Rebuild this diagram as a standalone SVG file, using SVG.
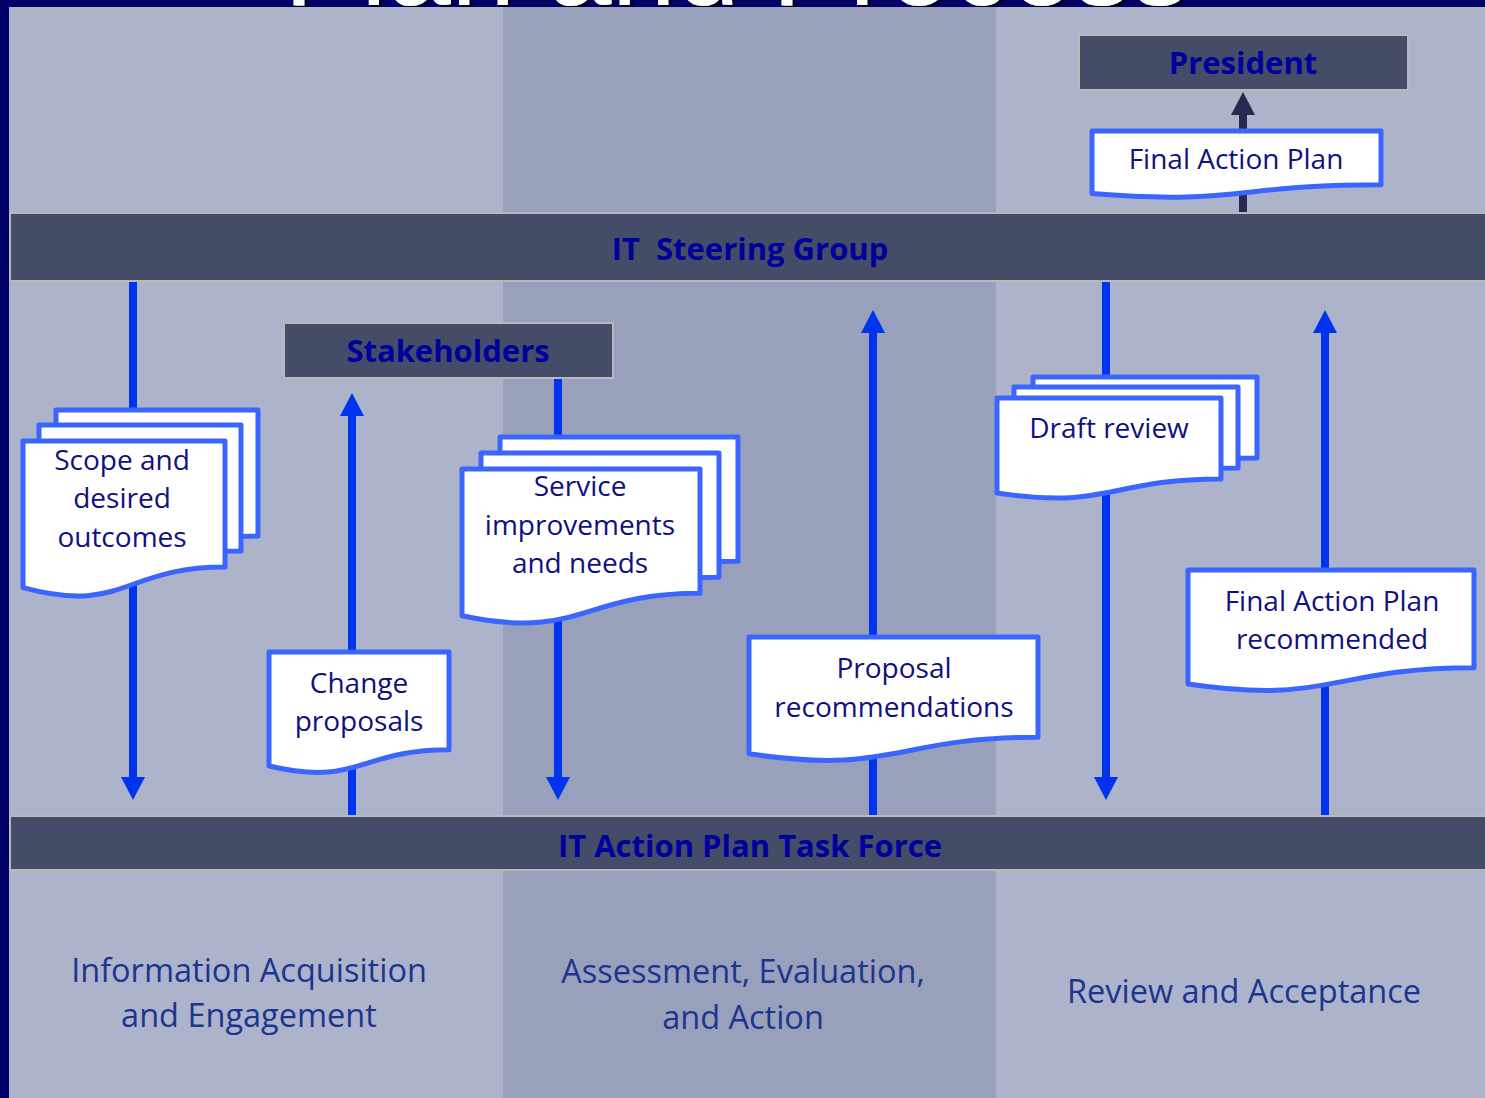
<svg xmlns="http://www.w3.org/2000/svg" width="1485" height="1098" viewBox="0 0 1485 1098">
  <style>
    .bar { fill: #444c68; stroke: #b9b9b9; stroke-width: 2; }
    .barText { font-family: "Open Sans", "Liberation Sans", sans-serif; font-weight: 700; font-size: 31px; fill: #00009c; text-anchor: middle; }
    .doc { fill: #ffffff; stroke: #3a66ff; stroke-width: 5; stroke-linejoin: round; }
    .docText { font-family: "Open Sans", "Liberation Sans", sans-serif; font-size: 28px; fill: #10107e; text-anchor: middle; }
    .phase { font-family: "Open Sans", "Liberation Sans", sans-serif; font-size: 32.5px; fill: #1b3590; text-anchor: middle; }
    .flow { stroke: #0033ee; stroke-width: 8; fill: none; marker-end: url(#headBlue); }
    .flowDark { stroke: #282850; stroke-width: 8; fill: none; marker-end: url(#headDark); }
    .title { font-family: "Liberation Sans", Arial, sans-serif; font-size: 116px; fill: #ffffff; filter: url(#titleShadow); }
  </style>
  <defs>
    <filter id="titleShadow" x="-5%" y="-20%" width="110%" height="140%">
      <feDropShadow dx="3" dy="2" stdDeviation="0.5" flood-color="#000022" flood-opacity="1"/>
    </filter>
    <marker id="headBlue" viewBox="0 0 23 24" refX="1" refY="12" markerWidth="23" markerHeight="24" markerUnits="userSpaceOnUse" orient="auto">
      <path d="M0,0 L23,12 L0,24 Z" fill="#0033ee"/>
    </marker>
    <marker id="headDark" viewBox="0 0 23 24" refX="1" refY="12" markerWidth="23" markerHeight="24" markerUnits="userSpaceOnUse" orient="auto">
      <path d="M0,0 L23,12 L0,24 Z" fill="#282850"/>
    </marker>
    <!-- document shapes (flowchart "document" outline with wavy bottom), drawn at origin -->
    <path id="docScope" d="M0,0 H202 V125.9 C101,125.9 101,173.9 0,146.6 Z"/>
    <path id="docChange" d="M0,0 H180 V97.8 C90,97.8 90,135.1 0,114 Z"/>
    <path id="docService" d="M0,0 H238 V124.3 C119,124.3 119,171.7 0,146.8 Z"/>
    <path id="docProposal" d="M0,0 H289 V100.3 C144.5,100.3 144.5,138.4 0,116.8 Z"/>
    <path id="docDraft" d="M0,0 H224 V81 C112,81 112,111.9 0,95 Z"/>
    <path id="docRecommended" d="M0,0 H286 V97.8 C143,97.8 143,135.1 0,114 Z"/>
    <path id="docFinal" d="M0,0 H289 V53.7 C144.5,53.7 144.5,74.2 0,62.6 Z"/>
  </defs>

  <!-- slide background and heading -->
  <rect x="0" y="0" width="1485" height="1098" fill="#000066"/>
  <text class="title" x="284" y="5" textLength="905" lengthAdjust="spacingAndGlyphs">Plan and Process</text>

  <!-- phase columns -->
  <rect x="9" y="7" width="494" height="1091" fill="#adb3ca"/>
  <rect x="503" y="7" width="493" height="1091" fill="#99a0bb"/>
  <rect x="996" y="7" width="489" height="1091" fill="#adb3ca"/>

  <!-- bands and boxes -->
  <g id="president">
    <rect class="bar" x="1079" y="35" width="329" height="55"/>
    <text class="barText" x="1243" y="74">President</text>
  </g>
  <g id="steering-group">
    <rect class="bar" x="10" y="213" width="1480" height="68"/>
    <text class="barText" x="750" y="260" xml:space="preserve">IT  Steering Group</text>
  </g>
  <g id="stakeholders">
    <rect class="bar" x="284" y="323" width="329" height="55"/>
    <text class="barText" x="448" y="362">Stakeholders</text>
  </g>
  <g id="task-force">
    <rect class="bar" x="10" y="816" width="1480" height="54"/>
    <text class="barText" x="750" y="857">IT Action Plan Task Force</text>
  </g>

  <!-- connectors -->
  <g id="connectors">
    <line class="flow" x1="133" y1="282" x2="133" y2="778"/>
    <line class="flow" x1="352" y1="815" x2="352" y2="415"/>
    <line class="flow" x1="558" y1="379" x2="558" y2="778"/>
    <line class="flow" x1="873" y1="815" x2="873" y2="332"/>
    <line class="flow" x1="1106" y1="282" x2="1106" y2="778"/>
    <line class="flow" x1="1325" y1="815" x2="1325" y2="332"/>
    <line class="flowDark" x1="1243" y1="212" x2="1243" y2="114"/>
  </g>

  <!-- documents -->
  <g id="doc-scope">
    <use href="#docScope" class="doc" x="56" y="410"/>
    <use href="#docScope" class="doc" x="39" y="425"/>
    <use href="#docScope" class="doc" x="23" y="441"/>
    <text class="docText" x="122" y="470">Scope and</text>
    <text class="docText" x="122" y="508">desired</text>
    <text class="docText" x="122" y="547">outcomes</text>
  </g>
  <g id="doc-change">
    <use href="#docChange" class="doc" x="269" y="652"/>
    <text class="docText" x="359" y="693">Change</text>
    <text class="docText" x="359" y="731">proposals</text>
  </g>
  <g id="doc-service">
    <use href="#docService" class="doc" x="500" y="437"/>
    <use href="#docService" class="doc" x="481" y="453"/>
    <use href="#docService" class="doc" x="462" y="469"/>
    <text class="docText" x="580" y="496">Service</text>
    <text class="docText" x="580" y="535">improvements</text>
    <text class="docText" x="580" y="573">and needs</text>
  </g>
  <g id="doc-proposal">
    <use href="#docProposal" class="doc" x="749" y="637"/>
    <text class="docText" x="894" y="678">Proposal</text>
    <text class="docText" x="894" y="717">recommendations</text>
  </g>
  <g id="doc-draft">
    <use href="#docDraft" class="doc" x="1033" y="377"/>
    <use href="#docDraft" class="doc" x="1014" y="387"/>
    <use href="#docDraft" class="doc" x="997" y="398"/>
    <text class="docText" x="1109" y="438">Draft review</text>
  </g>
  <g id="doc-recommended">
    <use href="#docRecommended" class="doc" x="1188" y="570"/>
    <text class="docText" x="1332" y="611">Final Action Plan</text>
    <text class="docText" x="1332" y="649">recommended</text>
  </g>
  <g id="doc-final">
    <use href="#docFinal" class="doc" x="1092" y="131"/>
    <text class="docText" x="1236" y="169">Final Action Plan</text>
  </g>

  <!-- phase labels -->
  <g id="phase-labels">
    <text class="phase" x="249" y="982">Information Acquisition</text>
    <text class="phase" x="249" y="1027">and Engagement</text>
    <text class="phase" x="743" y="983">Assessment, Evaluation,</text>
    <text class="phase" x="743" y="1029">and Action</text>
    <text class="phase" x="1244" y="1003">Review and Acceptance</text>
  </g>
</svg>
